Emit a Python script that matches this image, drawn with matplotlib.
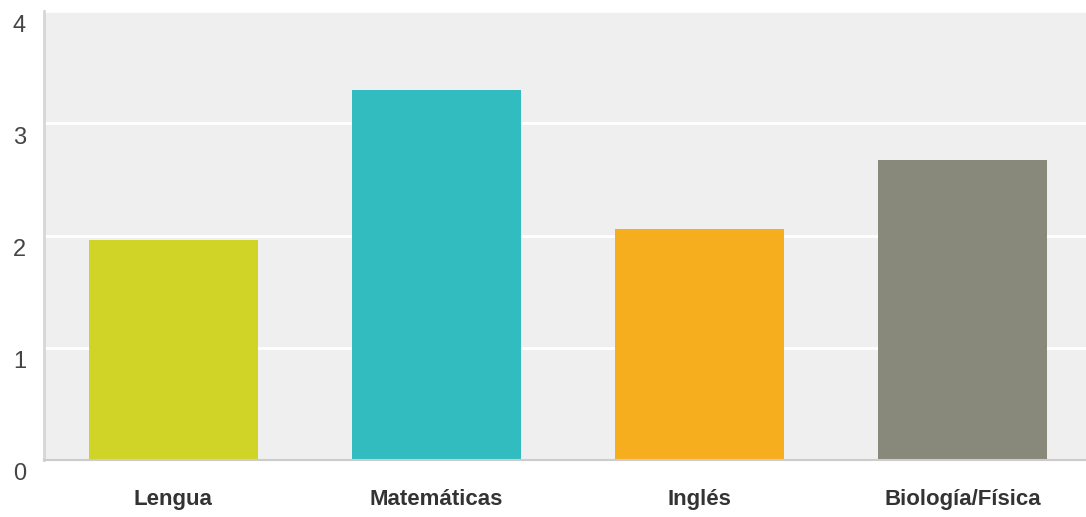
import numpy as np
import matplotlib.pyplot as plt
import matplotlib.transforms as mtransforms

subjects = ["Lengua", "Matemáticas", "Inglés", "Biología/Física"]
scores = [1.96, 3.30, 2.06, 2.67]
colors = ["#cfd427", "#33bcc0", "#f6ae1f", "#88897a"]
yticks = [0, 1, 2, 3, 4]

plt.rcParams['font.family'] = ['Liberation Sans', 'DejaVu Sans']

fig = plt.figure(figsize=(10.86, 5.17), dpi=100)
ax = fig.add_axes([44 / 1086, 1 - 460 / 517, (1086 - 44) / 1086, (460 - 11) / 517])
ax.set_facecolor("#efefef")

x = np.arange(len(subjects))
ax.bar(x, scores, width=0.643, color=colors, zorder=3)

ax.set_xlim(-0.492, 3.47)
ax.set_ylim(0, 4)

# white horizontal grid
ax.set_yticks(yticks)
ax.yaxis.grid(True, color="white", linewidth=2)
ax.set_axisbelow(True)

for s in ["top", "right"]:
    ax.spines[s].set_visible(False)
ax.spines["left"].set_color("#d6d6d6")
ax.spines["left"].set_linewidth(2)
ax.spines["bottom"].set_color("#cccccc")
ax.spines["bottom"].set_linewidth(1.5)
ax.spines["bottom"].set_zorder(4)

ax.tick_params(axis="both", length=0)
ax.set_yticklabels([str(v) for v in yticks], fontsize=17, color="#444444")
ax.tick_params(axis="y", pad=13)
shift = mtransforms.ScaledTranslation(0, -12 / 100, fig.dpi_scale_trans)
for lab in ax.get_yticklabels():
    lab.set_transform(lab.get_transform() + shift)

ax.set_xticks(x)
ax.set_xticklabels(subjects, fontsize=16, fontweight="bold", color="#333333")
ax.tick_params(axis="x", pad=21)

fig.savefig("out.png", dpi=100, facecolor="white")
